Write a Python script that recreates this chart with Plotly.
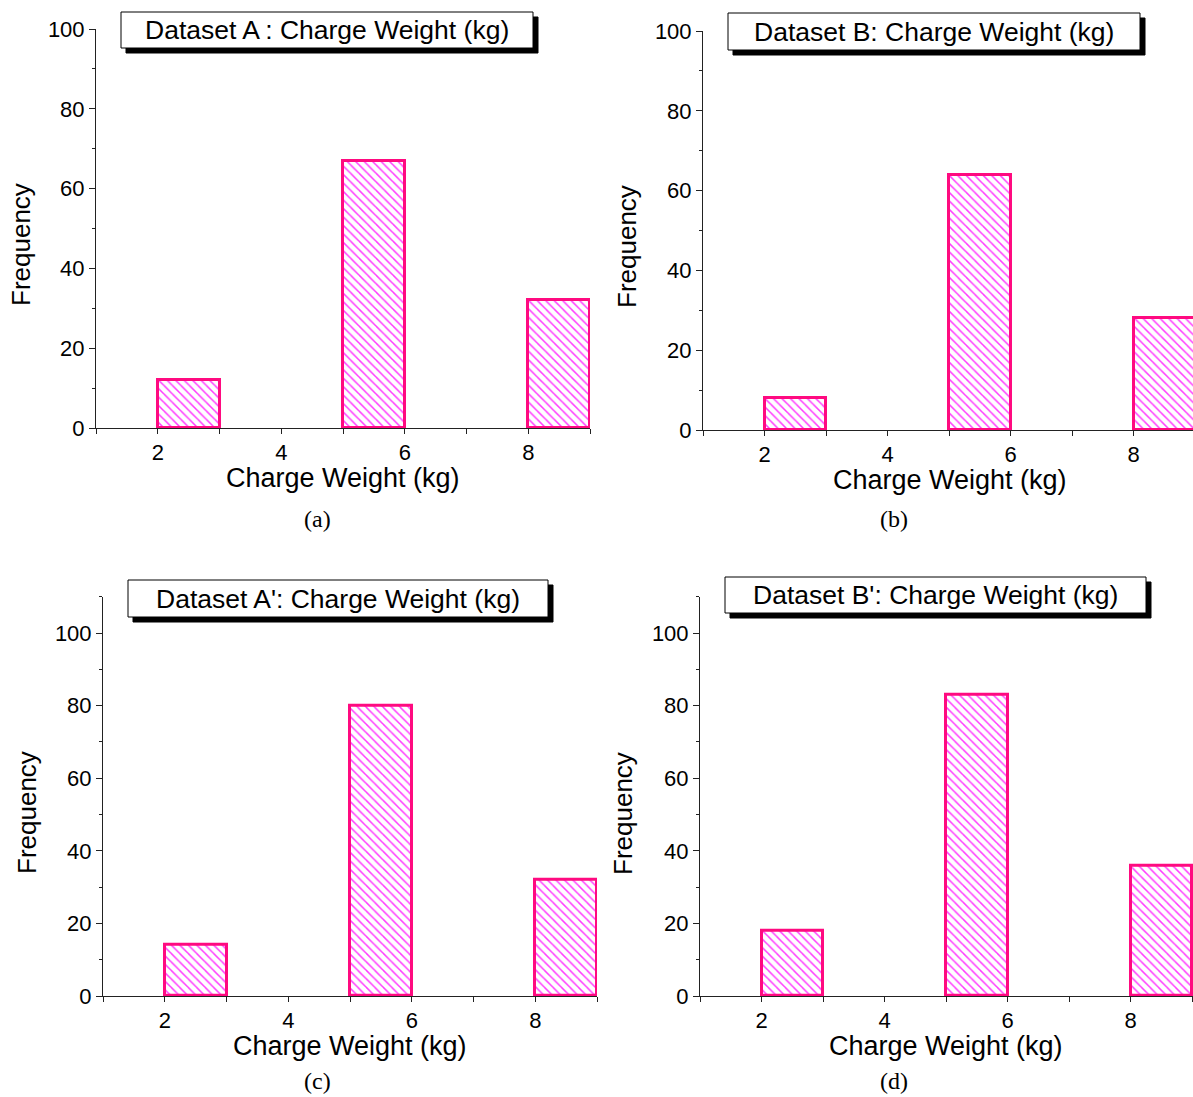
import plotly.graph_objects as go

# ---- data ----
bin_left = [2, 5, 8]
bin_width = 1
freq_a = [12, 67, 32]
freq_b = [8, 64, 28]
freq_c = [14, 80, 32]
freq_d = [18, 83, 36]

titles = ["Dataset A\u2009: Charge Weight (kg)", "Dataset B: Charge Weight (kg)",
          "Dataset A': Charge Weight (kg)", "Dataset B': Charge Weight (kg)"]
captions = ["(a)", "(b)", "(c)", "(d)"]
x_title = "Charge Weight (kg)"
y_title = "Frequency"

W, H = 1193, 1097
FONT = "Arial, Liberation Sans, sans-serif"
SERIF = "Times New Roman, Liberation Serif, serif"
AX = "#222222"
EDGE = "#FF0A80"
HATCH = "#FF3CFF"

def px_x(p):
    return p / W

def py_y(p):
    return 1 - p / H

panels = [
    dict(freq=freq_a, xd=(96, 590), xr=[1, 9], yd=(428, 29), yr=[0, 100],
         box=(121, 533, 12, 48), cap=(317, 519), xt=(343, 478), yt=(21, 245)),
    dict(freq=freq_b, xd=(703, 1193), xr=[1, 1 + 490 / 61.5], yd=(430, 31), yr=[0, 100],
         box=(728, 1140, 13, 50), cap=(894, 519), xt=(950, 480), yt=(627, 247)),
    dict(freq=freq_c, xd=(103, 597), xr=[1, 9], yd=(996, 596.7), yr=[0, 110],
         box=(128, 548, 580, 617), cap=(317, 1081), xt=(350, 1046), yt=(27, 813)),
    dict(freq=freq_d, xd=(700, 1193), xr=[1, 1 + 493 / 61.5], yd=(996, 596.7), yr=[0, 110],
         box=(725, 1146, 577, 613), cap=(894, 1081), xt=(946, 1046), yt=(623, 813)),
]

fig = go.Figure()
annotations = []
shapes = []
for i, p in enumerate(panels):
    n = "" if i == 0 else str(i + 1)
    xa, ya = "x" + n, "y" + n
    fig.add_trace(go.Bar(
        x=bin_left, y=p["freq"], width=bin_width, offset=0,
        xaxis=xa, yaxis=ya, showlegend=False, hoverinfo="x+y",
        marker=dict(color="white",
                    line=dict(color=EDGE, width=3),
                    pattern=dict(shape="\\", fgcolor=HATCH, bgcolor="white",
                                 size=6, solidity=0.25, fillmode="replace")),
    ))
    fig.layout["xaxis" + n] = dict(
        domain=[px_x(p["xd"][0]), min(1, px_x(p["xd"][1]))], range=p["xr"],
        anchor=ya, showline=True, linecolor=AX, linewidth=1, showgrid=False, zeroline=False,
        ticks="outside", ticklen=5, tickcolor=AX, tick0=0, dtick=2,
        minor=dict(ticks="outside", ticklen=5, dtick=1, tickcolor=AX, showgrid=False),
        tickfont=dict(family=FONT, size=22, color="black"),
        layer="below traces", fixedrange=True, automargin=False,
    )
    fig.layout["yaxis" + n] = dict(
        domain=[py_y(p["yd"][0]), py_y(p["yd"][1])], range=p["yr"],
        anchor=xa, showline=True, linecolor=AX, linewidth=1, showgrid=False, zeroline=False,
        ticks="outside", ticklen=6, tickcolor=AX, dtick=20,
        minor=dict(ticks="outside", ticklen=3, dtick=10, tickcolor=AX, showgrid=False),
        tickfont=dict(family=FONT, size=22, color="black"),
        layer="below traces", fixedrange=True, automargin=False,
    )
    # axis titles
    annotations.append(dict(
        xref="paper", yref="paper", x=px_x(p["xt"][0]), y=py_y(p["xt"][1]),
        xanchor="center", yanchor="middle", text=x_title, showarrow=False,
        font=dict(family=FONT, size=27, color="black"),
    ))
    annotations.append(dict(
        xref="paper", yref="paper", x=px_x(p["yt"][0]), y=py_y(p["yt"][1]),
        xanchor="center", yanchor="middle", text=y_title, showarrow=False, textangle=-90,
        font=dict(family=FONT, size=26, color="black"),
    ))
    # title box with drop shadow
    bx0, bx1, by0, by1 = p["box"]
    shapes.append(dict(type="rect", xref="paper", yref="paper",
                       x0=px_x(bx0 + 5), x1=px_x(bx1 + 5), y0=py_y(by1 + 5), y1=py_y(by0 + 5),
                       fillcolor="black", line=dict(color="black", width=1), layer="above"))
    shapes.append(dict(type="rect", xref="paper", yref="paper",
                       x0=px_x(bx0), x1=px_x(bx1), y0=py_y(by1), y1=py_y(by0),
                       fillcolor="white", line=dict(color="black", width=1), layer="above"))
    annotations.append(dict(
        xref="paper", yref="paper", x=px_x((bx0 + bx1) / 2), y=py_y((by0 + by1) / 2),
        xanchor="center", yanchor="middle", text=titles[i], showarrow=False,
        font=dict(family=FONT, size=26.5, color="black"),
    ))
    annotations.append(dict(
        xref="paper", yref="paper", x=px_x(p["cap"][0]), y=py_y(p["cap"][1]),
        xanchor="center", yanchor="middle", text=captions[i], showarrow=False,
        font=dict(family=SERIF, size=24, color="black"),
    ))

fig.update_layout(
    width=W, height=H, margin=dict(l=0, r=0, t=0, b=0, autoexpand=False),
    paper_bgcolor="white", plot_bgcolor="white",
    annotations=annotations, shapes=shapes, bargap=0,
)
fig.write_html("out.html", config={"displayModeBar": False},
               post_script="document.body.style.margin='0';document.body.style.overflow='hidden';")
